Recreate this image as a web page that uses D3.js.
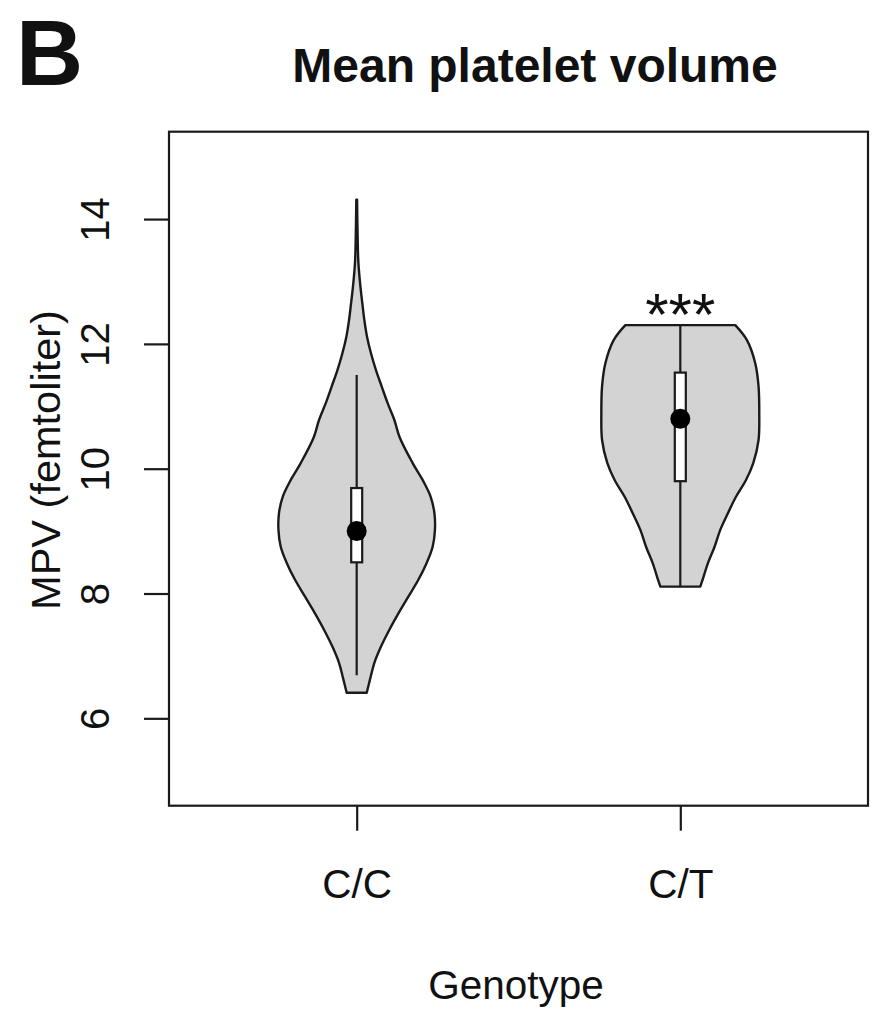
<!DOCTYPE html>
<html>
<head>
<meta charset="utf-8">
<script src="https://cdn.jsdelivr.net/npm/d3@7"></script>
<style>
  body { margin: 0; background: #fff; }
  text { font-family: "Liberation Sans", Arial, sans-serif; fill: #111; }
</style>
</head>
<body>
<div id="chart"></div>
<script>
// data
const genotypes = ["C/C", "C/T"];
const yTicks = [6, 8, 10, 12, 14];

// violin outlines: MPV value and half width (relative to widest point)
const ccValues = [6.41, 6.62, 6.89, 7.15, 7.42, 7.69, 7.95, 8.22, 8.49, 8.75, 9.02, 9.29, 9.55, 9.82, 10.09, 10.5, 10.78, 11.05, 11.32, 11.58, 11.85, 12.12, 12.38, 12.6, 12.92, 13.29, 13.7, 14.31];
const ccWidths = [0.127, 0.168, 0.224, 0.308, 0.414, 0.532, 0.654, 0.781, 0.886, 0.962, 0.991, 0.984, 0.937, 0.835, 0.709, 0.545, 0.477, 0.392, 0.316, 0.244, 0.181, 0.13, 0.097, 0.076, 0.047, 0.022, 0.012, 0.005];
const ctValues = [8.11, 8.22, 8.49, 8.75, 9.02, 9.29, 9.55, 9.82, 10.09, 10.46, 10.89, 11.32, 11.69, 12.06, 12.3];
const ctWidths = [0.253, 0.282, 0.351, 0.434, 0.506, 0.604, 0.705, 0.832, 0.924, 0.991, 1.0, 0.991, 0.949, 0.844, 0.696];

// box summaries: lower whisker, q1, median, q3, upper whisker
const whiskerLow = [6.69, 8.1];
const q1 = [8.5, 9.8];
const medians = [9.0, 10.8];
const q3 = [9.69, 11.54];
const whiskerHigh = [11.5, 12.3];

const W = 879, H = 1015;
const plot = {left: 169, right: 868, top: 131.7, bottom: 805.7};

const svg = d3.select("#chart")
  .append("svg")
    .attr("width", W)
    .attr("height", H);

// scales (R style: 4% padding around the limits)
const x = d3.scaleLinear()
  .domain([0.42, 2.58])
  .range([plot.left, plot.right]);
const y = d3.scaleLinear()
  .domain([4.6, 15.4])
  .range([plot.bottom, plot.top]);
const halfWidth = d3.scaleLinear()
  .domain([0, 1])
  .range([0, x(1.244) - x(1)]);

const violins = [
  {values: ccValues, widths: ccWidths},
  {values: ctValues, widths: ctWidths}
];

const area = d3.area()
  .curve(d3.curveCatmullRom)
  .x0(d => d.cx - halfWidth(d.w))
  .x1(d => d.cx + halfWidth(d.w))
  .y(d => y(d.v));

// violins
svg.append("g")
  .selectAll("path")
  .data(violins)
  .join("path")
    .attr("d", (d, i) => area(d.values.map((v, j) => ({v: v, w: d.widths[j], cx: x(i + 1)}))))
    .attr("fill", "#d3d3d3")
    .attr("stroke", "#1a1a1a")
    .attr("stroke-width", 2.4)
    .attr("stroke-linejoin", "round");

// whiskers
svg.append("g")
  .selectAll("line")
  .data(genotypes)
  .join("line")
    .attr("x1", (d, i) => x(i + 1))
    .attr("x2", (d, i) => x(i + 1))
    .attr("y1", (d, i) => y(whiskerLow[i]))
    .attr("y2", (d, i) => y(whiskerHigh[i]))
    .attr("stroke", "#1a1a1a")
    .attr("stroke-width", 2.2);

// boxes
const boxW = 11;
svg.append("g")
  .selectAll("rect")
  .data(genotypes)
  .join("rect")
    .attr("x", (d, i) => x(i + 1) - boxW / 2)
    .attr("y", (d, i) => y(q3[i]))
    .attr("width", boxW)
    .attr("height", (d, i) => y(q1[i]) - y(q3[i]))
    .attr("fill", "#fff")
    .attr("stroke", "#1a1a1a")
    .attr("stroke-width", 2.2);

// medians
svg.append("g")
  .selectAll("circle")
  .data(genotypes)
  .join("circle")
    .attr("cx", (d, i) => x(i + 1))
    .attr("cy", (d, i) => y(medians[i]))
    .attr("r", 10)
    .attr("fill", "#000");

// significance stars
svg.append("text")
  .attr("x", x(2))
  .attr("y", 335)
  .attr("text-anchor", "middle")
  .style("font-size", "60px")
  .text("***");

// plot frame
svg.append("rect")
  .attr("x", plot.left)
  .attr("y", plot.top)
  .attr("width", plot.right - plot.left)
  .attr("height", plot.bottom - plot.top)
  .attr("fill", "none")
  .attr("stroke", "#1a1a1a")
  .attr("stroke-width", 2.2);

// Y axis
const yAxis = svg.append("g")
  .attr("transform", `translate(${plot.left},0)`)
  .call(d3.axisLeft(y).tickValues(yTicks).tickSize(25).tickSizeOuter(0));
yAxis.select(".domain").remove();
yAxis.selectAll("line").attr("stroke", "#1a1a1a").attr("stroke-width", 2.2);
yAxis.selectAll("text")
  .attr("transform", "rotate(-90)")
  .attr("x", 0)
  .attr("y", -60)
  .attr("dy", 0)
  .attr("text-anchor", "middle")
  .style("font-size", "40px")
  .style("font-family", "'Liberation Sans', Arial, sans-serif")
  .attr("fill", "#111");

// X axis
const xAxis = svg.append("g")
  .attr("transform", `translate(0,${plot.bottom})`)
  .call(d3.axisBottom(x).tickValues([1, 2]).tickFormat(d => genotypes[d - 1]).tickSize(25).tickSizeOuter(0));
xAxis.select(".domain").remove();
xAxis.selectAll("line").attr("stroke", "#1a1a1a").attr("stroke-width", 2.2);
xAxis.selectAll("text")
  .attr("y", 92)
  .attr("dy", 0)
  .style("font-size", "40.5px")
  .style("font-family", "'Liberation Sans', Arial, sans-serif")
  .attr("fill", "#111");

// axis titles
svg.append("text")
  .attr("transform", `translate(60,460) rotate(-90)`)
  .attr("text-anchor", "middle")
  .style("font-size", "41.5px")
  .text("MPV (femtoliter)");

svg.append("text")
  .attr("x", 516)
  .attr("y", 999)
  .attr("text-anchor", "middle")
  .style("font-size", "40.5px")
  .text("Genotype");

// title and panel letter
svg.append("text")
  .attr("x", 535)
  .attr("y", 82)
  .attr("text-anchor", "middle")
  .style("font-size", "48px")
  .style("font-weight", "bold")
  .text("Mean platelet volume");

svg.append("text")
  .attr("x", 16)
  .attr("y", 85)
  .style("font-size", "93px")
  .style("font-weight", "bold")
  .text("B");
</script>
</body>
</html>
